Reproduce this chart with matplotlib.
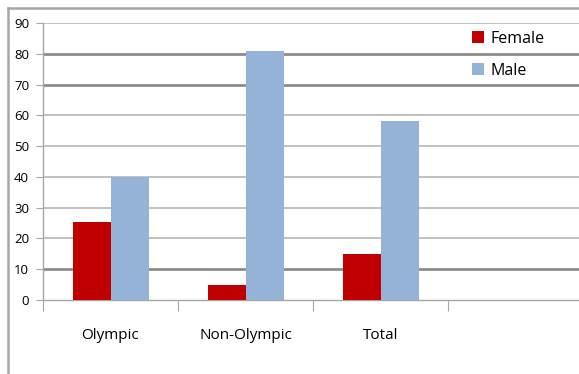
import matplotlib
matplotlib.use('Agg')
import matplotlib.pyplot as plt
from matplotlib.lines import Line2D
import numpy as np

categories = ['Olympic', 'Non-Olympic', 'Total', '']
female = [25.5, 5, 15]
male = [40, 81, 58]
series_names = ['Female', 'Male']
yticks = list(range(0, 91, 10))
heavy_grid = [10, 70, 80]

W, H = 579, 374
fig = plt.figure(figsize=(W / 100, H / 100), dpi=100)
fig.patch.set_facecolor('white')

# chart frame (left and top edges visible)
fig.add_artist(Line2D([8 / W, 8 / W], [0, 1 - 8 / H], transform=fig.transFigure,
                      color='#a6a6a6', lw=1.8))
fig.add_artist(Line2D([8 / W, 1], [1 - 8 / H, 1 - 8 / H], transform=fig.transFigure,
                      color='#a6a6a6', lw=1.8))

cat_px = 135.0
ax = fig.add_axes([43 / W, 74 / H, (W - 43) / W, 277 / H])
ax.set_xlim(-0.5, -0.5 + (W - 43) / cat_px)
ax.set_ylim(0, 90)

bw = 38 / cat_px
x = np.arange(len(female))
ax.bar(x - bw / 2, female, width=bw, color='#C00000', label=series_names[0], zorder=3)
ax.bar(x + bw / 2, male, width=bw, color='#95B3D7', label=series_names[1], zorder=3)

for v in yticks[1:]:
    if v in heavy_grid:
        ax.axhline(v, color='#8c8c8c', lw=2.0, zorder=1)
    else:
        ax.axhline(v, color='#b0b0b0', lw=1.1, zorder=1)

for s in ['top', 'right']:
    ax.spines[s].set_visible(False)
ax.spines['left'].set_color('#a6a6a6')
ax.spines['bottom'].set_color('#a6a6a6')
ax.spines['left'].set_linewidth(1.0)
ax.spines['bottom'].set_linewidth(1.0)

ax.set_yticks(yticks)
ax.set_yticklabels([str(v) for v in yticks], fontsize=9.5, family='Open Sans')
ax.tick_params(axis='y', length=5, color='#a6a6a6', pad=5)

ax.set_xticks(np.arange(len(categories)) - 0.5, minor=False)
ax.set_xticklabels([])
ax.tick_params(axis='x', which='major', length=8, color='#a6a6a6')
ax.set_xticks(np.arange(len(categories)), minor=True)
ax.set_xticklabels(categories, minor=True, fontsize=11, family='Open Sans')
ax.tick_params(axis='x', which='minor', length=0, pad=20)

leg = ax.legend(loc='upper left', bbox_to_anchor=((458 - 43) / (W - 43), 1.024),
                frameon=False, handlelength=0.75, handleheight=0.75,
                handletextpad=0.4, labelspacing=1.0, prop={'family': 'Open Sans', 'size': 11.5})

fig.savefig('out.png', dpi=100, facecolor='white')
